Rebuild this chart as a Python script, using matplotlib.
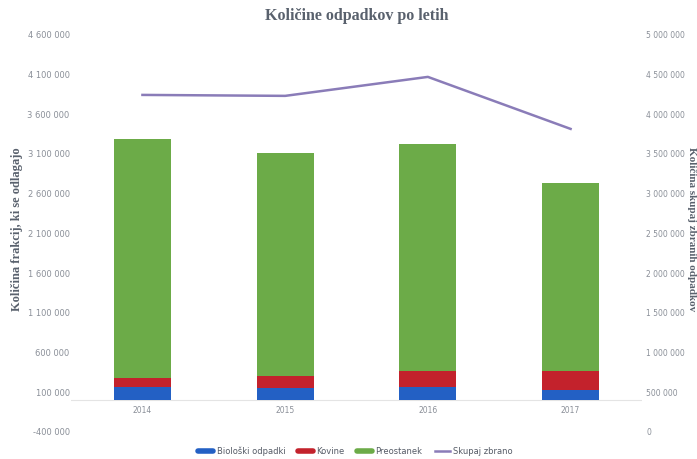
import numpy as np
import matplotlib
matplotlib.use("Agg")
import matplotlib.pyplot as plt
from matplotlib.lines import Line2D
from matplotlib.ticker import FuncFormatter

# podatki (odčitano s slike)
years = ["2014", "2015", "2016", "2017"]
bioloski = [160000, 150000, 168000, 126000]
kovine = [113000, 155000, 201000, 243000]
preostanek = [3014000, 2805000, 2851000, 2360000]
skupaj = [4244000, 4232000, 4471000, 3816000]

left_ticks = np.arange(-400000, 4600001, 500000)
right_ticks = np.arange(0, 5000001, 500000)

c_blue = "#2360c4"
c_red = "#c3222c"
c_green = "#6cab48"
c_purple = "#8a7cb8"
c_text = "#8a8f98"
c_title = "#59616d"


def fmt(v, pos=None):
    s = "{:,.0f}".format(v).replace(",", " ")
    return s


fig = plt.figure(figsize=(6.97, 4.59), dpi=100)
ax = fig.add_axes([0.102, 0.059, 0.819, 0.865])
ax2 = ax.twinx()

x = np.arange(len(years))
w = 0.4
b1 = np.array(bioloski)
b2 = np.array(kovine)
b3 = np.array(preostanek)
ax.bar(x, b1, w, color=c_blue, zorder=2)
ax.bar(x, b2, w, bottom=b1, color=c_red, zorder=2)
ax.bar(x, b3, w, bottom=b1 + b2, color=c_green, zorder=2)
ax.axhline(0, color="#e4e4e4", lw=0.8, zorder=1)

ax2.plot(x, skupaj, color=c_purple, lw=1.8, zorder=3)

ax.set_xlim(-0.5, len(years) - 0.5)
ax.set_ylim(left_ticks[0], left_ticks[-1])
ax.set_yticks(left_ticks)
ax.yaxis.set_major_formatter(FuncFormatter(fmt))
ax2.set_ylim(right_ticks[0], right_ticks[-1])
ax2.set_yticks(right_ticks)
ax2.yaxis.set_major_formatter(FuncFormatter(fmt))

ax.set_xticks([])
for i, y in enumerate(years):
    ax.text(i, -70000, y, ha="center", va="top", fontsize=5.5, color=c_text)

for a in (ax, ax2):
    for s in a.spines.values():
        s.set_visible(False)
    a.tick_params(axis="y", length=0, labelsize=6, labelcolor=c_text)
ax.tick_params(axis="y", pad=1)
ax2.tick_params(axis="y", pad=3, labelsize=5.5)

fig.text(0.512, 0.965, "Količine odpadkov po letih", ha="center", va="center",
         fontsize=11.5, fontweight="bold", family="Liberation Serif", color=c_title)
fig.text(0.025, 0.5, "Količina frakcij, ki se odlagajo", rotation=90, ha="center",
         va="center", fontsize=9, fontweight="bold", family="Liberation Serif",
         color=c_title)
fig.text(0.992, 0.5, "Količina skupaj zbranih odpadkov", rotation=270, ha="center",
         va="center", fontsize=8, fontweight="bold", family="Liberation Serif",
         color=c_title)

handles = [
    Line2D([0], [0], color=c_blue, lw=4, solid_capstyle="round"),
    Line2D([0], [0], color=c_red, lw=4, solid_capstyle="round"),
    Line2D([0], [0], color=c_green, lw=4, solid_capstyle="round"),
    Line2D([0], [0], color=c_purple, lw=1.8),
]
labels = ["Biološki odpadki", "Kovine", "Preostanek", "Skupaj zbrano"]
fig.legend(handles, labels, loc="center", bbox_to_anchor=(0.51, 0.017), ncol=4,
           frameon=False, fontsize=6, labelcolor="#555b66", handlelength=1.8,
           columnspacing=1.5, handletextpad=0.4)

fig.savefig("out.png", dpi=100)
